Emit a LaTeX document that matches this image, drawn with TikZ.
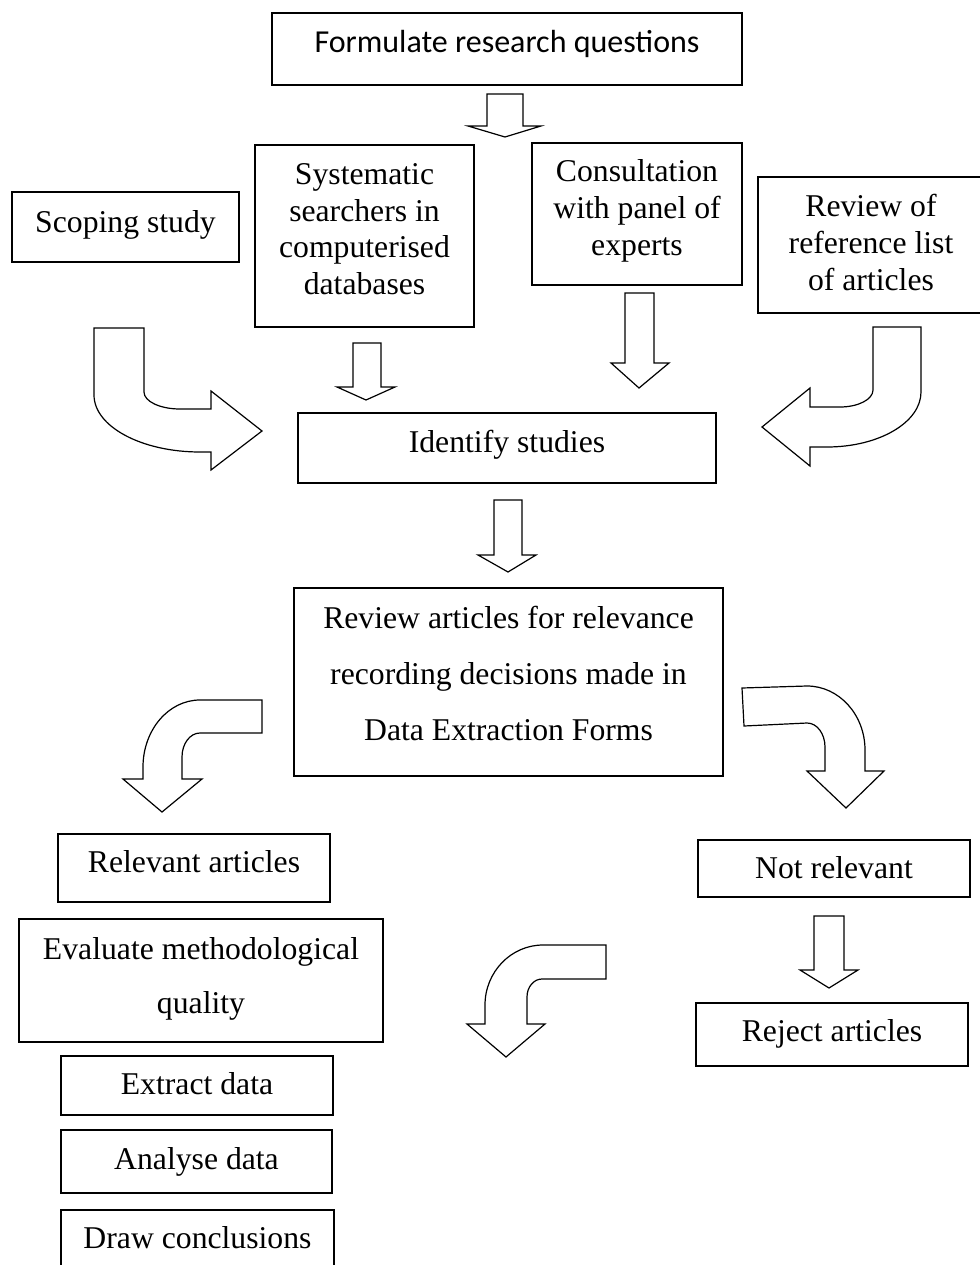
\documentclass[tikz,border=0pt]{standalone}
\usepackage{fontspec}
\setmainfont{Liberation Serif}
\newfontfamily\calfont{Carlito}
\usetikzlibrary{fit}
\begin{document}
\begin{tikzpicture}[x=1pt,y=-1pt,
  box/.style={draw, line width=1.6pt, inner sep=0pt},
  txt/.style={inner sep=0pt, align=center, font=\fontsize{31.7}{36.8}\selectfont},
  wide/.style={font=\fontsize{31.7}{55}\selectfont},
  blk/.style={draw, line width=1.2pt, line join=miter}]
\useasboundingbox (0,0) rectangle (979,1265);

% boxes
\node[box, fit={(272,13) (742,85)}] (form) {};
\node[box, fit={(255,145) (474,327)}] (syst) {};
\node[box, fit={(532,143) (742,285)}] (cons) {};
\node[box, fit={(12,192) (239,262)}] (scop) {};
\node[box, fit={(758,177) (985,313)}] (revf) {};
\node[box, fit={(298,413) (716,483)}] (iden) {};
\node[box, fit={(294,588) (723,776)}] (reva) {};
\node[box, fit={(58,834) (330,902)}] (rele) {};
\node[box, fit={(698,840) (970,897)}] (notr) {};
\node[box, fit={(19,919) (383,1042)}] (eval) {};
\node[box, fit={(696,1003) (968,1066)}] (rejt) {};
\node[box, fit={(61,1056) (333,1115)}] (extr) {};
\node[box, fit={(61,1130) (332,1193)}] (anal) {};
\node[box, fit={(61,1210) (334,1272)}] (draw) {};

% texts
\node[txt, font=\calfont\fontsize{32}{38}\selectfont] (t-form) at (507,45.4) {\strut Formulate research questions};
\node[txt] (t-scop) at (125.5,225.6) {\strut Scoping study};
\node[txt] (t-syst) at (364.5,232.1) {\strut Systematic\\\strut searchers in\\\strut computerised\\\strut databases};
\node[txt] (t-cons) at (637,211.2) {\strut Consultation\\\strut with panel of\\\strut experts};
\node[txt] (t-revf) at (871,246.2) {\strut Review of\\\strut reference list\\\strut of articles};
\node[txt] (t-iden) at (507,445.6) {\strut Identify studies};
\node[txt, font=\fontsize{31.7}{56}\selectfont] (t-reva) at (508.5,672.8) {\strut Review articles for relevance\\\strut recording decisions made in\\\strut Data Extraction Forms};
\node[txt] (t-rele) at (194,865.6) {\strut Relevant articles};
\node[txt] (t-notr) at (834,871.6) {\strut Not relevant};
\node[txt, font=\fontsize{31.7}{54}\selectfont] (t-eval) at (201,975.2) {\strut Evaluate methodological\\\strut quality};
\node[txt] (t-rejt) at (832,1034.6) {\strut Reject articles};
\node[txt] (t-extr) at (197,1087.6) {\strut Extract data};
\node[txt] (t-anal) at (196.5,1162.6) {\strut Analyse data};
\node[txt] (t-draw) at (197.5,1241.6) {\strut Draw conclusions};

% straight block arrows
\draw[blk] (487,94) -- (523,94) -- (523,126) -- (541,126) -- (505,137) -- (468,126) -- (487,126) -- cycle;
\draw[blk] (353,343) -- (381,343) -- (381,387) -- (395,387) -- (366,400) -- (337,387) -- (353,387) -- cycle;
\draw[blk] (625,293) -- (654,293) -- (654,363) -- (669,363) -- (639,388) -- (611,363) -- (625,363) -- cycle;
\draw[blk] (494,500) -- (522,500) -- (522,555) -- (536,555) -- (508,572) -- (478,555) -- (494,555) -- cycle;
\draw[blk] (814,916) -- (844,916) -- (844,970) -- (858,970) -- (829,988) -- (800,970) -- (814,970) -- cycle;

% curved block arrows
\draw[blk] (94,328) -- (144,328) -- (144,392)
  .. controls (144,401.4) and (160,409) .. (180,409)
  -- (211,409) -- (211,391) -- (262,431) -- (211,470) -- (211,452) -- (200,452)
  .. controls (141.5,452) and (94,426.5) .. (94,395) -- cycle;
\draw[blk] (921,327) -- (873,327) -- (873,390)
  .. controls (873,399.4) and (858.2,407) .. (840,407)
  -- (810,407) -- (810,388) -- (762,427) -- (810,466) -- (810,447) -- (827,447)
  .. controls (878.9,447) and (921,422.4) .. (921,392) -- cycle;
\draw[blk] (262,700) -- (200,700)
  .. controls (168.5,700) and (143,730) .. (143,767)
  -- (143,779) -- (123,779) -- (162,812) -- (202,779) -- (182,779) -- (182,757)
  .. controls (182,743.7) and (190,733) .. (200,733) -- (262,733) -- cycle;
\draw[blk] (742,688) -- (807,686)
  .. controls (839,686) and (865,714.7) .. (865,750)
  -- (865,771) -- (884,771) -- (846,808) -- (807,771) -- (825,771) -- (825,747)
  .. controls (825,733.7) and (817,723) .. (807,723) -- (744,726) -- cycle;
\draw[blk] (606,945) -- (543,945)
  .. controls (511,945) and (485,972) .. (485,1005)
  -- (485,1024) -- (467,1024) -- (506,1057) -- (545,1024) -- (527,1024) -- (527,997)
  .. controls (527,987) and (533.7,979) .. (542,979) -- (606,979) -- cycle;
\end{tikzpicture}
\end{document}
